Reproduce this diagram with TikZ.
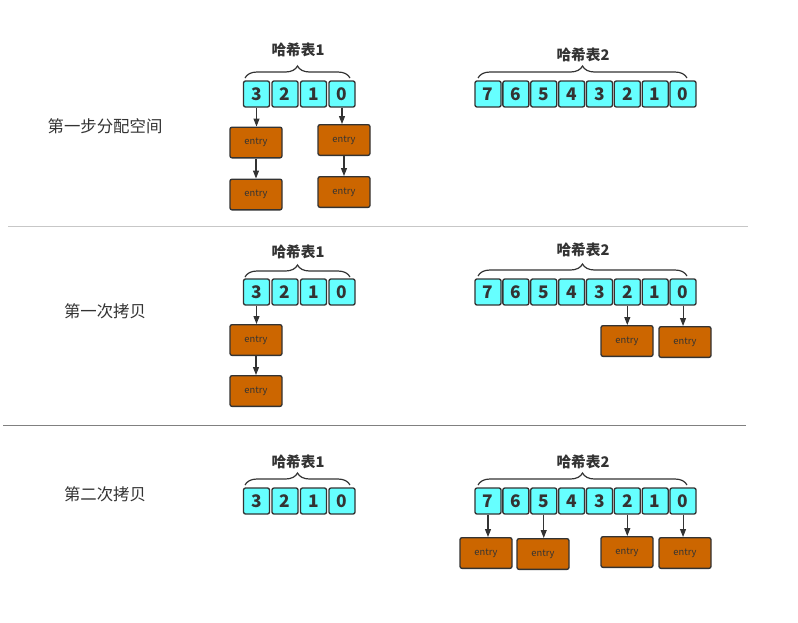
\documentclass[tikz,border=0pt]{standalone}
\usepackage{fontspec}
\setmainfont{Noto Sans CJK SC}
\usetikzlibrary{arrows.meta,decorations.pathreplacing}
\definecolor{cellfill}{HTML}{66FFFF}
\definecolor{entryfill}{HTML}{CC6600}
\definecolor{edge}{HTML}{333333}
\begin{document}
\begin{tikzpicture}[x=0.75pt,y=-0.75pt]
\tikzset{cell/.style = {draw=edge, fill=cellfill, rounded corners=1.5pt, line width=1pt, minimum width=19.5pt, minimum height=19.5pt, inner sep=0pt, font=\fontsize{13}{13}\selectfont\bfseries, text=edge},
  entrybox/.style = {draw=edge, fill=entryfill, rounded corners=1.5pt, line width=1pt, minimum width=39pt, minimum height=23pt, inner sep=0pt, font=\fontsize{7}{7}\selectfont, text=edge},
  arr/.style = {draw=edge, line width=0.8pt, -{Triangle[length=6pt,width=4.5pt]}},
  tablebrace/.style = {draw=edge, line width=0.9pt, decorate, decoration={brace, amplitude=9pt}},
  title/.style = {font=\fontsize{11}{11}\selectfont\bfseries, text=edge},
  step label/.style = {font=\fontsize{12.3}{12.3}\selectfont, text=edge}}
\useasboundingbox (0,0) rectangle (798,622);
% cells of both tables, three times
\foreach \s/\y in {1/94, 2/292, 3/501} {
  \foreach \d [count=\i from 0] in {3,2,1,0}
    \node[cell] (s\s a\d) at (256.5+28.5*\i,\y) {\d};
  \foreach \d [count=\i from 0] in {7,6,5,4,3,2,1,0}
    \node[cell] (s\s b\d) at (488+27.86*\i,\y) {\d};
}
% titles and braces
\coordinate (s1l1) at (245,78); \coordinate (s1r1) at (350,78);
\coordinate (s1l2) at (478,78); \coordinate (s1r2) at (687,78);
\coordinate (s2l1) at (245,277); \coordinate (s2r1) at (350,277);
\coordinate (s2l2) at (478,276); \coordinate (s2r2) at (687,276);
\coordinate (s3l1) at (245,485); \coordinate (s3r1) at (350,485);
\coordinate (s3l2) at (478,485); \coordinate (s3r2) at (687,485);
\foreach \s in {1,2,3} {
  \draw[tablebrace] (s\s l1) -- (s\s r1);
  \draw[tablebrace] (s\s l2) -- (s\s r2);
}
\node[title] (h11) at (298,50) {哈希表1};
\node[title] (h12) at (583,55) {哈希表2};
\node[title] (h21) at (298,252) {哈希表1};
\node[title] (h22) at (583,250) {哈希表2};
\node[title] (h31) at (298,462) {哈希表1};
\node[title] (h32) at (583,462) {哈希表2};
% step names
\node[step label] (n1) at (105,126) {第一步分配空间};
\node[step label] (n2) at (105,311) {第一次拷贝};
\node[step label] (n3) at (105,494) {第二次拷贝};
% separators
\draw[color=black!22] (8,226) -- (748,226);
\draw[color=black!50] (3,425) -- (746,425);
% entries
\node[entrybox] (s1e1) at (256,142.5) {entry};
\node[entrybox] (s1e2) at (256,194.5) {entry};
\node[entrybox] (s1e3) at (344,140) {entry};
\node[entrybox] (s1e4) at (344,192) {entry};
\node[entrybox] (s2e1) at (256,340) {entry};
\node[entrybox] (s2e2) at (256,391) {entry};
\node[entrybox] (s2e3) at (627,341) {entry};
\node[entrybox] (s2e4) at (685,342) {entry};
\node[entrybox] (s3e1) at (486,553) {entry};
\node[entrybox] (s3e2) at (543,554) {entry};
\node[entrybox] (s3e3) at (627,552) {entry};
\node[entrybox] (s3e4) at (685,553) {entry};
% links
\draw[arr] (s1a3.south) -- (s1a3.south |- s1e1.north);
\draw[arr] (s1e1) -- (s1e2);
\draw[arr] (s1a0.south) -- (s1a0.south |- s1e3.north);
\draw[arr] (s1e3) -- (s1e4);
\draw[arr] (s2a3.south) -- (s2a3.south |- s2e1.north);
\draw[arr] (s2e1) -- (s2e2);
\draw[arr] (s2b2.south) -- (s2b2.south |- s2e3.north);
\draw[arr] (s2b0.south) -- (s2b0.south |- s2e4.north);
\draw[arr] (s3b7.south) -- (s3b7.south |- s3e1.north);
\draw[arr] (s3b5.south) -- (s3b5.south |- s3e2.north);
\draw[arr] (s3b2.south) -- (s3b2.south |- s3e3.north);
\draw[arr] (s3b0.south) -- (s3b0.south |- s3e4.north);
\end{tikzpicture}
\end{document}
